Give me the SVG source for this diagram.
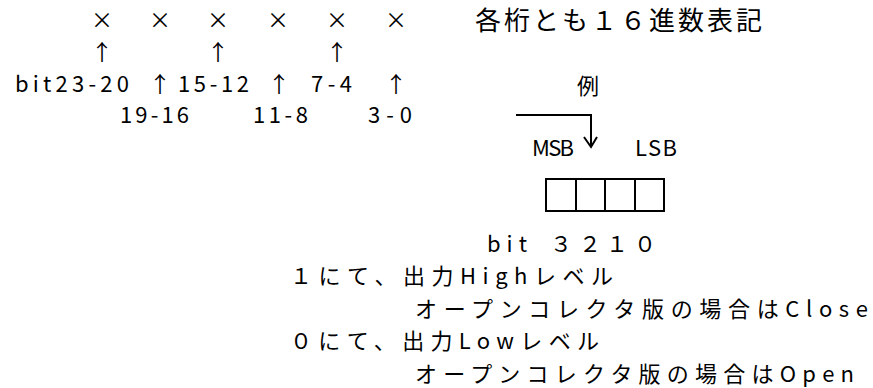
<svg xmlns="http://www.w3.org/2000/svg" width="873" height="388" viewBox="0 0 873 388">
<style>
text{font-family:"Noto Sans CJK JP","Noto Sans",sans-serif;font-size:22px;fill:#000}
.big{font-size:26px}
.mid{text-anchor:middle}
.arr{font-size:22px;text-anchor:middle}
.ln{fill:none;stroke:#000;stroke-width:2}
</style>
<rect width="873" height="388" fill="#fff"/>
<g id="digits">
<text class="mid" x="102" y="28">×</text>
<text class="mid" x="160" y="28">×</text>
<text class="mid" x="218" y="28">×</text>
<text class="mid" x="278" y="28">×</text>
<text class="mid" x="337" y="28">×</text>
<text class="mid" x="396" y="28">×</text>
</g>
<g id="note">
<text class="big" x="475" y="30" textLength="287" lengthAdjust="spacing">各桁とも１６進数表記</text>
</g>
<g id="bit-labels">
<text class="arr" x="102" y="60">↑</text>
<text class="arr" x="218" y="60">↑</text>
<text class="arr" x="337" y="60">↑</text>
<text x="15" y="92" textLength="114" lengthAdjust="spacing">bit23-20</text>
<text class="arr" x="160" y="92">↑</text>
<text x="178" y="92" textLength="71" lengthAdjust="spacing">15-12</text>
<text class="arr" x="279" y="92">↑</text>
<text x="311" y="92" textLength="41" lengthAdjust="spacing">7-4</text>
<text class="arr" x="396" y="92">↑</text>
<text x="120" y="123" textLength="69" lengthAdjust="spacing">19-16</text>
<text x="253" y="123" textLength="55" lengthAdjust="spacing">11-8</text>
<text x="368" y="123" textLength="44" lengthAdjust="spacing">3-0</text>
</g>
<g id="example">
<text x="577" y="94">例</text>
<text x="532" y="156" textLength="42" lengthAdjust="spacing">MSB</text>
<text x="635" y="156" textLength="42" lengthAdjust="spacing">LSB</text>
</g>
<g id="register">
<rect class="ln" x="546" y="179" width="118" height="32"/>
<line class="ln" x1="576" y1="179" x2="576" y2="211"/>
<line class="ln" x1="605" y1="179" x2="605" y2="211"/>
<line class="ln" x1="635" y1="179" x2="635" y2="211"/>
<text y="252"><tspan x="487" letter-spacing="6">bit</tspan><tspan x="550">３</tspan><tspan x="579">２</tspan><tspan x="606">１</tspan><tspan x="634">０</tspan></text>
</g>
<g id="connectors">
<path class="ln" d="M516 115H591V147"/>
<polyline class="ln" points="584,137 591,147 597,137"/>
</g>
<g id="description">
<text x="290" y="284" textLength="323" lengthAdjust="spacing">１にて、出力Highレベル</text>
<text x="415" y="317" textLength="453" lengthAdjust="spacing">オープンコレクタ版の場合はClose</text>
<text x="290" y="349" textLength="309" lengthAdjust="spacing">０にて、出力Lowレベル</text>
<text x="415" y="382" textLength="439" lengthAdjust="spacing">オープンコレクタ版の場合はOpen</text>
</g>
</svg>
